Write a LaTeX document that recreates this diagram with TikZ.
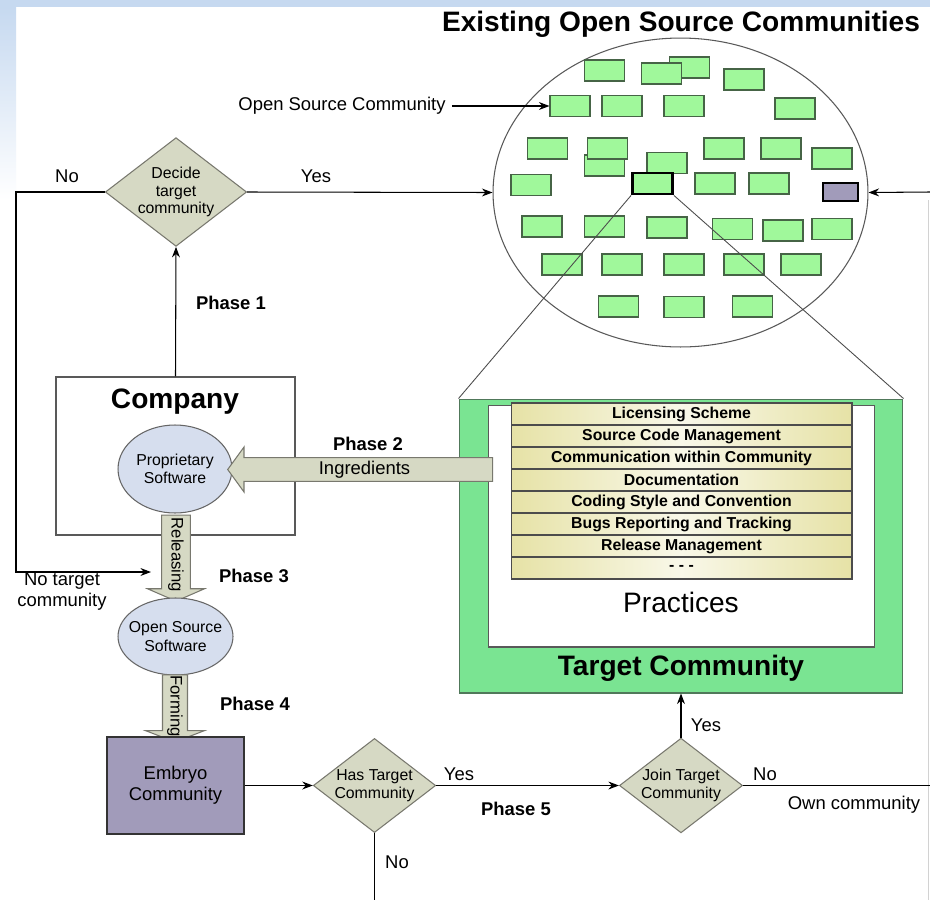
\documentclass[tikz,border=0pt]{standalone}
\usepackage{fontspec}
\setmainfont{Liberation Sans}
\usetikzlibrary{shapes.geometric, shapes.arrows, arrows.meta}
\definecolor{bgblue}{RGB}{198,217,240}
\definecolor{decfill}{RGB}{214,217,196}
\definecolor{ellfill}{RGB}{214,222,238}
\definecolor{oscfill}{RGB}{160,248,155}
\definecolor{oscline}{RGB}{70,100,70}
\definecolor{embfill}{RGB}{161,155,186}
\definecolor{tcfill}{RGB}{122,228,146}
\definecolor{tcline}{RGB}{80,120,90}
\definecolor{pracfill}{RGB}{230,226,166}
\definecolor{arrline}{RGB}{120,120,110}

\begin{document}
\begin{tikzpicture}[>={Stealth[length=6pt, width=4.5pt]}, x=0.02cm, y=-0.02cm, line width=0.6pt,
    decision/.style={diamond, draw=arrline, fill=decfill, shape aspect=1.3, inner sep=0pt, align=center, font=\fontsize{9}{10}\selectfont},
    soft/.style={ellipse, draw=gray!80!black, fill=ellfill},
    softtxt/.style={align=center, font=\fontsize{9}{10.5}\selectfont},
    bigarrow/.style={single arrow, draw=arrline, fill=decfill, single arrow head indent=0pt, inner xsep=0pt},
    osc/.style={draw=oscline, fill=oscfill, minimum width=0.8cm, minimum height=0.42cm, inner sep=0pt},
    practice/.style={draw=gray!60!black, left color=pracfill, right color=pracfill, middle color=pracfill!25, minimum width=6.82cm, minimum height=0.44cm, inner sep=0pt, font=\bfseries\fontsize{9}{10}\selectfont},
    txt/.style={font=\fontsize{10.5}{12}\selectfont},
    phase/.style={font=\bfseries\fontsize{10.5}{12}\selectfont}]
        \useasboundingbox (0,0) rectangle (930,900);
        % slide background
        \fill[white] (0,0) rectangle (930,900);
        \fill[bgblue] (0,0) rectangle (930,7);
        \shade[top color=bgblue, bottom color=white] (0,7) rectangle (16,200);
        \coordinate (FT) at (928,200);
        \coordinate (FB) at (928,900);
        \draw[gray!35, line width=0.5pt] (FT) -- (FB);

        % existing communities
        \node[font=\bfseries\fontsize{16}{19}\selectfont] (EXT) at (681,24) {Existing Open Source Communities};
        \node[ellipse, draw=gray!70!black, fill=white, minimum width=7.5cm, minimum height=6.18cm] (EX) at (680.5,192.5) {};
        \foreach \p in {(604.5,70.5), (689.5,67.5), (661.5,73.5), (744,79.5),
                        (622,106), (684,106), (795,108.5),
                        (604.5,165.5), (607.5,148.5), (547.5,148.5), (667,163), (724,148.5), (781,148.5), (832,158.5),
                        (531,185), (715,183.5), (769,183.5),
                        (542,226.5), (604.5,226.5), (667,227.5), (732.5,229), (783,230.5), (832,229),
                        (562,264.5), (622,264.5), (684,264.5), (744,264.5), (801,264.5),
                        (618.5,306.5), (684,307), (752.5,306.5)}
            \node[osc] at \p {};
        \node[osc] (OSC) at (570,106) {};
        \node[osc, draw=black, line width=1.6pt] (SEL) at (652.5,183.5) {};
        \node[osc, fill=embfill, draw=black, line width=1.6pt, minimum width=0.7cm, minimum height=0.36cm] (OWN) at (840.5,192) {};

        \node[txt] (OSCT) at (342,106) {Open Source Community};
        \draw[->] (OSCT) -- (OSC);

        % target community
        \node[draw=tcline, fill=tcfill, minimum width=8.88cm, minimum height=5.88cm] (TC) at (681,546) {};
        \node[draw=gray!70!black, fill=white, minimum width=7.74cm, minimum height=4.84cm] (PR) at (681.5,526) {};
        \foreach \t [count=\i] in {Licensing Scheme, Source Code Management, Communication within Community, Documentation, Coding Style and Convention, Bugs Reporting and Tracking, Release Management, - - -}
            \node[practice] (P\i) at (681.5,392+22*\i) {\t};
        \node[font=\fontsize{16}{19}\selectfont] at (681,602) {Practices};
        \node[font=\bfseries\fontsize{16}{19}\selectfont] at (681,668) {Target Community};

        \draw[gray!60!black, line width=0.5pt] (SEL.south west) -- (TC.north west);
        \draw[gray!60!black, line width=0.5pt] (SEL.south east) -- (TC.north east);

        % phase 1
        \node[decision] (DT) at (176,192) {Decide\\target\\community};
        \draw[->] (DT.east) -- (EX.west);
        \node[txt] at (316,176) {Yes};
        \node[txt] at (67,176) {No};
        \coordinate (NL) at (16,572);
        \coordinate (NT) at (151,572);
        \draw[->] (DT.west) -| (NL) -- (NT);
        \node[txt, align=center] at (62,592) {No target\\community};

        \node[draw=gray!70!black, minimum width=4.78cm, minimum height=3.16cm] (CO) at (175.5,456) {};
        \node[font=\bfseries\fontsize{16}{19}\selectfont] at (175,402) {Company};
        \draw[->] (CO.north) -- (DT.south);
        \node[phase] at (231,303) {Phase 1};

        % phase 2
        \node[soft, minimum width=2.28cm, minimum height=1.76cm, label={[softtxt]center:Proprietary\\Software}] (PS) at (175,469) {};
        \node[bigarrow, shape border rotate=180, minimum height=5.3cm, single arrow head extend=0.21cm, single arrow tip angle=108, inner ysep=1.6pt, txt] (ING) at (364.5,469.5) {Ingredients};
        \node[phase] at (368,444) {Phase 2};

        % phase 3 and 4
        \node[bigarrow, rotate=-90, minimum height=1.72cm, single arrow head extend=0.28cm, single arrow tip angle=133, inner ysep=3.5pt, font=\fontsize{9.5}{10}\selectfont] (REL) at (176,555) {Releasing};
        \node[phase] at (254,576) {Phase 3};
        \node[soft, minimum width=2.3cm, minimum height=1.54cm, label={[softtxt]center:Open Source\\Software}] (OSS) at (175.5,636.5) {};
        \node[bigarrow, rotate=-90, minimum height=1.24cm, single arrow head extend=0.34cm, single arrow tip angle=138, inner ysep=2.4pt, font=\fontsize{9.5}{10}\selectfont] (FOR) at (175,706) {Forming};
        \node[phase] at (255,704) {Phase 4};

        % phase 5
        \node[draw=gray!40!black, fill=embfill, minimum width=2.74cm, minimum height=1.94cm, align=center, txt] (EC) at (175.5,785.5) {Embryo\\Community};
        \node[decision, font=\fontsize{9}{10.5}\selectfont] (HT) at (374.5,785.5) {Has Target\\Community};
        \node[decision, font=\fontsize{9}{10.5}\selectfont] (JT) at (681,785.5) {Join Target\\Community};
        \draw[->] (EC) -- (HT);
        \draw[->] (HT) -- (JT);
        \node[txt] at (459,774) {Yes};
        \node[phase] at (516,809) {Phase 5};
        \coordinate (HB) at (374.5,900);
        \draw (HT.south) -- (HB);
        \node[txt] at (397,862) {No};
        \draw[->] (JT.north) -- (TC.south);
        \node[txt] at (706,725) {Yes};
        \coordinate (OR) at (930,785.5);
        \draw (JT.east) -- (OR);
        \node[txt] at (765,774) {No};
        \node[txt] at (854,805) {Own community};
        \coordinate (ER) at (930,192);
        \draw[->] (ER) -- (EX.east);
\end{tikzpicture}
\end{document}
